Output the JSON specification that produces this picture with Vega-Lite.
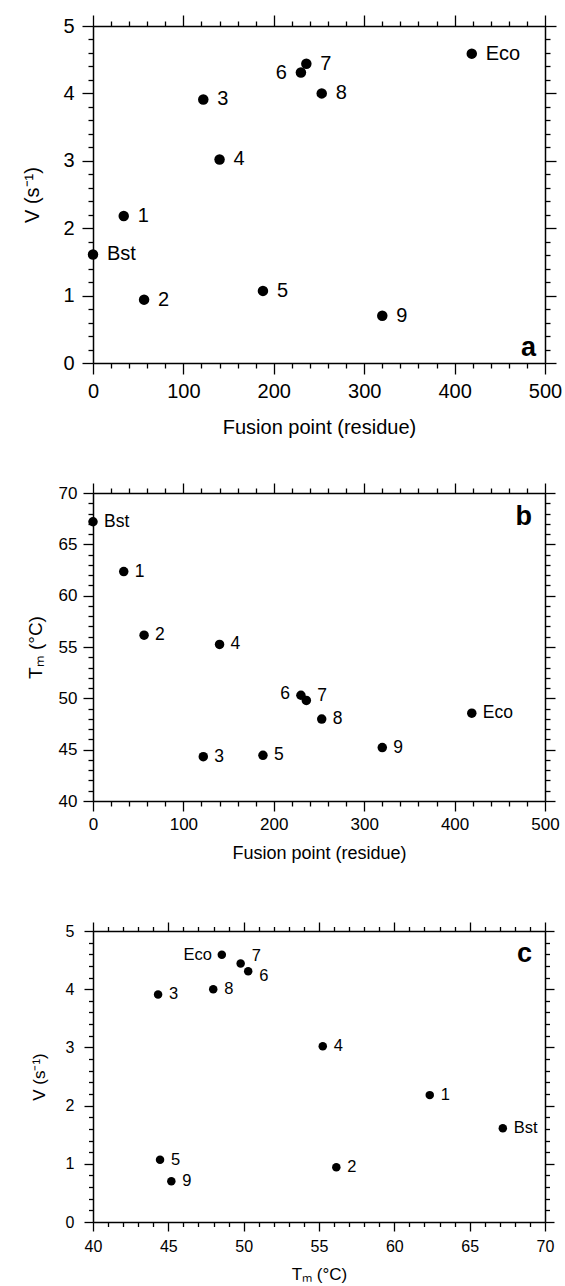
{
  "$schema": "https://vega.github.io/schema/vega-lite/v6.json",
  "data": {"values": [
    {"name": "Bst", "fusion": 0, "V": 1.61, "Tm": 67.2},
    {"name": "1", "fusion": 34, "V": 2.18, "Tm": 62.35},
    {"name": "2", "fusion": 56.5, "V": 0.94, "Tm": 56.15},
    {"name": "3", "fusion": 122, "V": 3.91, "Tm": 44.32},
    {"name": "4", "fusion": 140, "V": 3.02, "Tm": 55.25},
    {"name": "5", "fusion": 188, "V": 1.07, "Tm": 44.45},
    {"name": "6", "fusion": 230, "V": 4.31, "Tm": 50.3},
    {"name": "7", "fusion": 236, "V": 4.44, "Tm": 49.8},
    {"name": "8", "fusion": 253, "V": 4.0, "Tm": 47.98},
    {"name": "9", "fusion": 320, "V": 0.7, "Tm": 45.2},
    {"name": "Eco", "fusion": 419, "V": 4.59, "Tm": 48.55}
  ]},
  "autosize": {"type": "pad"},
  "padding": {"left": 22, "top": 14, "right": 5, "bottom": 5},
  "spacing": 130,
  "bounds": "flush",
  "vconcat": [
    {
      "width": 452, "height": 337,
      "resolve": {"axis": {"x": "independent", "y": "independent"}},
      "layer": [
        {
          "mark": {"type": "circle", "color": "black", "opacity": 1, "size": 110, "clip": false},
          "encoding": {
            "x": {"field": "fusion", "type": "quantitative", "scale": {"domain": [0, 500], "nice": false, "zero": false},
              "axis": {"orient": "bottom", "values": [0, 100, 200, 300, 400, 500], "tickSize": 11, "labelFontSize": 20, "labelPadding": 7, "title": "Fusion point (residue)", "titleFontSize": 20, "titlePadding": 16}},
            "y": {"field": "V", "type": "quantitative", "scale": {"domain": [0, 5], "nice": false, "zero": false},
              "axis": {"orient": "left", "values": [0, 1, 2, 3, 4, 5], "tickSize": 11, "labelFontSize": 20, "labelPadding": 8, "title": "V (s⁻¹)", "titleFontSize": 20, "titlePadding": 20}}
          }
        },
        {
          "transform": [{"filter": "datum.name !== '6'"}],
          "mark": {"type": "text", "align": "left", "baseline": "middle", "dx": 14, "fontSize": 20, "font": "Liberation Sans", "color": "black"},
          "encoding": {
            "text": {"field": "name"},
            "x": {"field": "fusion", "type": "quantitative",
              "axis": {"orient": "bottom", "values": [20,40,60,80,120,140,160,180,220,240,260,280,320,340,360,380,420,440,460,480], "tickSize": 5, "labels": false, "domain": false, "title": null}},
            "y": {"field": "V", "type": "quantitative",
              "axis": {"orient": "left", "values": [0.2,0.4,0.6,0.8,1.2,1.4,1.6,1.8,2.2,2.4,2.6,2.8,3.2,3.4,3.6,3.8,4.2,4.4,4.6,4.8], "tickSize": 5, "labels": false, "domain": false, "title": null}}
          }
        },
        {
          "data": {"values": [{"panel": "a", "px": 500, "py": 0}]},
          "mark": {"type": "text", "align": "right", "baseline": "alphabetic", "dx": -9, "dy": -7, "fontSize": 27, "fontWeight": "bold", "font": "Liberation Sans", "color": "black"},
          "encoding": {
            "text": {"field": "panel"},
            "x": {"field": "px", "type": "quantitative",
              "axis": {"orient": "top", "values": [0, 100, 200, 300, 400, 500], "tickSize": 11, "labels": false, "title": null}},
            "y": {"field": "py", "type": "quantitative",
              "axis": {"orient": "right", "values": [0, 1, 2, 3, 4, 5], "tickSize": 11, "labels": false, "title": null}}
          }
        },
        {
          "transform": [{"filter": "datum.name === '6'"}],
          "mark": {"type": "text", "align": "right", "baseline": "middle", "dx": -14, "fontSize": 20, "font": "Liberation Sans", "color": "black"},
          "encoding": {
            "text": {"field": "name"},
            "x": {"field": "fusion", "type": "quantitative",
              "axis": {"orient": "top", "values": [20,40,60,80,120,140,160,180,220,240,260,280,320,340,360,380,420,440,460,480], "tickSize": 5, "labels": false, "domain": false, "title": null}},
            "y": {"field": "V", "type": "quantitative",
              "axis": {"orient": "right", "values": [0.2,0.4,0.6,0.8,1.2,1.4,1.6,1.8,2.2,2.4,2.6,2.8,3.2,3.4,3.6,3.8,4.2,4.4,4.6,4.8], "tickSize": 5, "labels": false, "domain": false, "title": null}}
          }
        }
      ]
    },
    {
      "width": 452, "height": 308,
      "resolve": {"axis": {"x": "independent", "y": "independent"}},
      "layer": [
        {
          "mark": {"type": "circle", "color": "black", "opacity": 1, "size": 90, "clip": false},
          "encoding": {
            "x": {"field": "fusion", "type": "quantitative", "scale": {"domain": [0, 500], "nice": false, "zero": false},
              "axis": {"orient": "bottom", "values": [0, 100, 200, 300, 400, 500], "tickSize": 10, "labelFontSize": 17, "labelPadding": 5, "title": "Fusion point (residue)", "titleFontSize": 18, "titlePadding": 12}},
            "y": {"field": "Tm", "type": "quantitative", "scale": {"domain": [40, 70], "nice": false, "zero": false},
              "axis": {"orient": "left", "values": [40, 45, 50, 55, 60, 65, 70], "tickSize": 10, "labelFontSize": 17, "labelPadding": 6, "title": "Tₘ (°C)", "titleFontSize": 19, "titlePadding": 13}}
          }
        },
        {
          "transform": [{"filter": "datum.name !== '6' && datum.name !== '7'"}],
          "mark": {"type": "text", "align": "left", "baseline": "middle", "dx": 11, "fontSize": 17.5, "font": "Liberation Sans", "color": "black"},
          "encoding": {
            "text": {"field": "name"},
            "x": {"field": "fusion", "type": "quantitative",
              "axis": {"orient": "bottom", "values": [20,40,60,80,120,140,160,180,220,240,260,280,320,340,360,380,420,440,460,480], "tickSize": 5, "labels": false, "domain": false, "title": null}},
            "y": {"field": "Tm", "type": "quantitative",
              "axis": {"orient": "left", "values": [41,42,43,44,46,47,48,49,51,52,53,54,56,57,58,59,61,62,63,64,66,67,68,69], "tickSize": 5, "labels": false, "domain": false, "title": null}}
          }
        },
        {
          "data": {"values": [{"panel": "b", "px": 500, "py": 70}]},
          "mark": {"type": "text", "align": "right", "baseline": "alphabetic", "dx": -13, "dy": 32, "fontSize": 27, "fontWeight": "bold", "font": "Liberation Sans", "color": "black"},
          "encoding": {
            "text": {"field": "panel"},
            "x": {"field": "px", "type": "quantitative",
              "axis": {"orient": "top", "values": [0, 100, 200, 300, 400, 500], "tickSize": 10, "labels": false, "title": null}},
            "y": {"field": "py", "type": "quantitative",
              "axis": {"orient": "right", "values": [40, 45, 50, 55, 60, 65, 70], "tickSize": 10, "labels": false, "title": null}}
          }
        },
        {
          "transform": [{"filter": "datum.name === '6'"}],
          "mark": {"type": "text", "align": "right", "baseline": "middle", "dx": -11, "dy": -1, "fontSize": 17.5, "font": "Liberation Sans", "color": "black"},
          "encoding": {
            "text": {"field": "name"},
            "x": {"field": "fusion", "type": "quantitative",
              "axis": {"orient": "top", "values": [20,40,60,80,120,140,160,180,220,240,260,280,320,340,360,380,420,440,460,480], "tickSize": 5, "labels": false, "domain": false, "title": null}},
            "y": {"field": "Tm", "type": "quantitative",
              "axis": {"orient": "right", "values": [41,42,43,44,46,47,48,49,51,52,53,54,56,57,58,59,61,62,63,64,66,67,68,69], "tickSize": 5, "labels": false, "domain": false, "title": null}}
          }
        },
        {
          "transform": [{"filter": "datum.name === '7'"}],
          "mark": {"type": "text", "align": "left", "baseline": "middle", "dx": 11, "dy": -4, "fontSize": 17.5, "font": "Liberation Sans", "color": "black"},
          "encoding": {
            "text": {"field": "name"},
            "x": {"field": "fusion", "type": "quantitative", "axis": null},
            "y": {"field": "Tm", "type": "quantitative", "axis": null}
          }
        }
      ]
    },
    {
      "width": 452, "height": 291,
      "resolve": {"axis": {"x": "independent", "y": "independent"}},
      "layer": [
        {
          "mark": {"type": "circle", "color": "black", "opacity": 1, "size": 72, "clip": false},
          "encoding": {
            "x": {"field": "Tm", "type": "quantitative", "scale": {"domain": [40, 70], "nice": false, "zero": false},
              "axis": {"orient": "bottom", "values": [40, 45, 50, 55, 60, 65, 70], "tickSize": 9, "labelFontSize": 16, "labelPadding": 7, "title": "Tₘ (°C)", "titleFontSize": 17, "titlePadding": 12}},
            "y": {"field": "V", "type": "quantitative", "scale": {"domain": [0, 5], "nice": false, "zero": false},
              "axis": {"orient": "left", "values": [0, 1, 2, 3, 4, 5], "tickSize": 9, "labelFontSize": 16, "labelPadding": 10, "title": "V (s⁻¹)", "titleFontSize": 17, "titlePadding": 17}}
          }
        },
        {
          "transform": [{"filter": "datum.name !== 'Eco' && datum.name !== '7' && datum.name !== '6'"}],
          "mark": {"type": "text", "align": "left", "baseline": "middle", "dx": 11, "fontSize": 16.5, "font": "Liberation Sans", "color": "black"},
          "encoding": {
            "text": {"field": "name"},
            "x": {"field": "Tm", "type": "quantitative",
              "axis": {"orient": "bottom", "values": [41,42,43,44,46,47,48,49,51,52,53,54,56,57,58,59,61,62,63,64,66,67,68,69], "tickSize": 4.5, "labels": false, "domain": false, "title": null}},
            "y": {"field": "V", "type": "quantitative",
              "axis": {"orient": "left", "values": [0.2,0.4,0.6,0.8,1.2,1.4,1.6,1.8,2.2,2.4,2.6,2.8,3.2,3.4,3.6,3.8,4.2,4.4,4.6,4.8], "tickSize": 4.5, "labels": false, "domain": false, "title": null}}
          }
        },
        {
          "data": {"values": [{"panel": "c", "px": 70, "py": 5}]},
          "mark": {"type": "text", "align": "right", "baseline": "alphabetic", "dx": -13, "dy": 31, "fontSize": 27, "fontWeight": "bold", "font": "Liberation Sans", "color": "black"},
          "encoding": {
            "text": {"field": "panel"},
            "x": {"field": "px", "type": "quantitative",
              "axis": {"orient": "top", "values": [40, 45, 50, 55, 60, 65, 70], "tickSize": 9, "labels": false, "title": null}},
            "y": {"field": "py", "type": "quantitative",
              "axis": {"orient": "right", "values": [0, 1, 2, 3, 4, 5], "tickSize": 9, "labels": false, "title": null}}
          }
        },
        {
          "transform": [{"filter": "datum.name === 'Eco'"}],
          "mark": {"type": "text", "align": "right", "baseline": "middle", "dx": -10, "fontSize": 16.5, "font": "Liberation Sans", "color": "black"},
          "encoding": {
            "text": {"field": "name"},
            "x": {"field": "Tm", "type": "quantitative",
              "axis": {"orient": "top", "values": [41,42,43,44,46,47,48,49,51,52,53,54,56,57,58,59,61,62,63,64,66,67,68,69], "tickSize": 4.5, "labels": false, "domain": false, "title": null}},
            "y": {"field": "V", "type": "quantitative",
              "axis": {"orient": "right", "values": [0.2,0.4,0.6,0.8,1.2,1.4,1.6,1.8,2.2,2.4,2.6,2.8,3.2,3.4,3.6,3.8,4.2,4.4,4.6,4.8], "tickSize": 4.5, "labels": false, "domain": false, "title": null}}
          }
        },
        {
          "transform": [{"filter": "datum.name === '7'"}],
          "mark": {"type": "text", "align": "left", "baseline": "middle", "dx": 11, "dy": -8, "fontSize": 16.5, "font": "Liberation Sans", "color": "black"},
          "encoding": {
            "text": {"field": "name"},
            "x": {"field": "Tm", "type": "quantitative", "axis": null},
            "y": {"field": "V", "type": "quantitative", "axis": null}
          }
        },
        {
          "transform": [{"filter": "datum.name === '6'"}],
          "mark": {"type": "text", "align": "left", "baseline": "middle", "dx": 11, "dy": 5, "fontSize": 16.5, "font": "Liberation Sans", "color": "black"},
          "encoding": {
            "text": {"field": "name"},
            "x": {"field": "Tm", "type": "quantitative", "axis": null},
            "y": {"field": "V", "type": "quantitative", "axis": null}
          }
        }
      ]
    }
  ],
  "config": {
    "view": {"stroke": null},
    "axis": {
      "grid": false,
      "domainColor": "black", "domainWidth": 1.5,
      "tickColor": "black", "tickWidth": 1.3,
      "labelColor": "black", "titleColor": "black",
      "labelFont": "Liberation Sans", "titleFont": "Liberation Sans",
      "titleFontWeight": "normal",
      "labelFlush": false, "labelOverlap": false,
      "labelAngle": 0
    },
    "axisLeft": {"labelAngle": 0},
    "axisRight": {"labelAngle": 0}
  }
}
